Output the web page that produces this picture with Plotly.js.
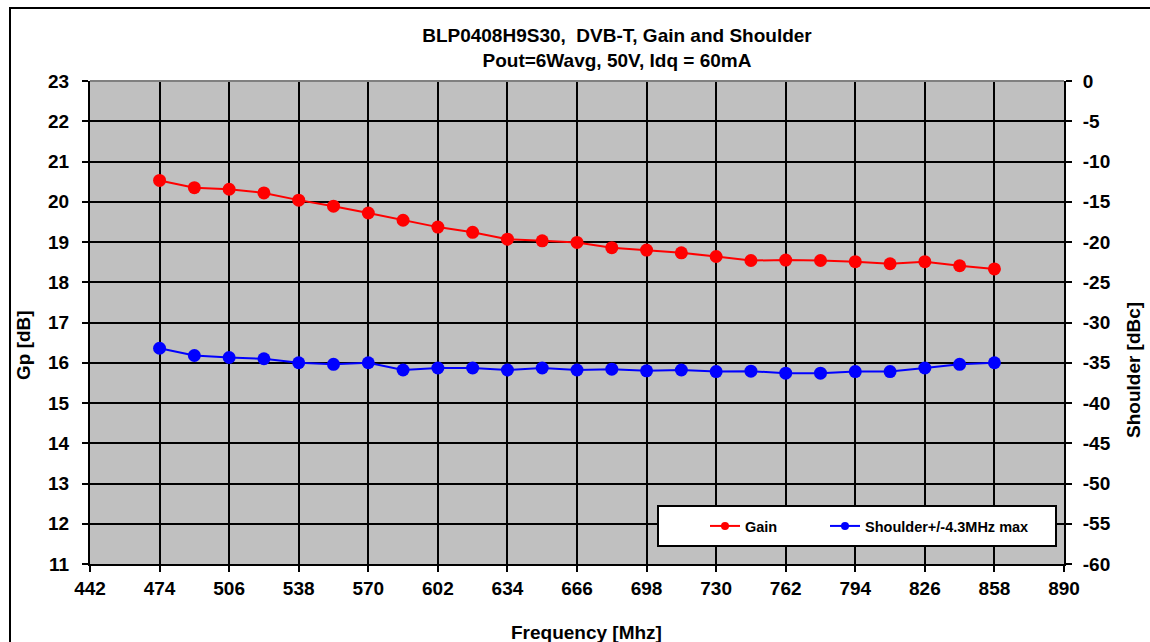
<!DOCTYPE html>
<html>
<head>
<meta charset="utf-8">
<script src="https://cdn.plot.ly/plotly-3.0.1.min.js"></script>
<style>
html,body{margin:0;padding:0;background:#fff;overflow:hidden;}
#chart{width:1150px;height:642px;}
#frame{position:absolute;left:9px;top:7px;width:1200px;height:700px;border:2px solid #000;pointer-events:none;}
</style>
</head>
<body>
<div id="chart"></div>
<div id="frame"></div>
<script>
const freq = [474,490,506,522,538,554,570,586,602,618,634,650,666,682,698,714,730,746,762,778,794,810,826,842,858];
const gain = [20.53,20.35,20.31,20.22,20.04,19.89,19.72,19.54,19.37,19.24,19.07,19.03,18.99,18.86,18.80,18.73,18.64,18.54,18.55,18.54,18.51,18.46,18.51,18.41,18.33];
const shoulder = [-33.2,-34.1,-34.35,-34.5,-35.0,-35.2,-35.0,-35.9,-35.65,-35.65,-35.9,-35.65,-35.9,-35.8,-36.0,-35.9,-36.1,-36.05,-36.3,-36.3,-36.1,-36.1,-35.65,-35.2,-35.0];
const xTicks = [442,474,506,538,570,602,634,666,698,730,762,794,826,858,890];
const yTicks = [11,12,13,14,15,16,17,18,19,20,21,22,23];
const y2Ticks = [-60,-55,-50,-45,-40,-35,-30,-25,-20,-15,-10,-5,0];
const seriesNames = ['Gain','Shoulder+/-4.3MHz max'];

const F = "Liberation Sans, Arial, sans-serif";
const bold = (s)=>({family:F,size:s,color:'#000',weight:'bold'});

const traces = [
  {x:freq,y:gain,name:seriesNames[0],type:'scatter',mode:'lines+markers',showlegend:false,
   line:{color:'#ff0000',width:2},marker:{color:'#ff0000',size:13},yaxis:'y'},
  {x:freq,y:shoulder,name:seriesNames[1],type:'scatter',mode:'lines+markers',showlegend:false,
   line:{color:'#0000ff',width:2},marker:{color:'#0000ff',size:13},yaxis:'y2'},
  // legend-only entries (small legend symbols as in the reference)
  {x:[null],y:[null],name:seriesNames[0],type:'scatter',mode:'lines+markers',legend:'legend',
   line:{color:'#ff0000',width:2},marker:{color:'#ff0000',size:8},yaxis:'y'},
  {x:[null],y:[null],name:seriesNames[1],type:'scatter',mode:'lines+markers',legend:'legend2',
   line:{color:'#0000ff',width:2},marker:{color:'#0000ff',size:8},yaxis:'y2'}
];

const px = (v)=>(v-90)/974;
const py = (v)=>(564-v)/483;

const layout = {
  width:1150,height:642,
  margin:{l:90,r:86,t:81,b:78},
  paper_bgcolor:'#ffffff',plot_bgcolor:'#c0c0c0',
  showlegend:true,
  title:{text:'BLP0408H9S30,  DVB-T, Gain and Shoulder<br>Pout=6Wavg, 50V, Idq = 60mA',
    font:bold(19),x:0.5365,xref:'container',xanchor:'center',y:0.934,yref:'container',yanchor:'middle'},
  xaxis:{range:[442,890],tickvals:xTicks,ticktext:xTicks.map(String),showgrid:true,gridcolor:'#000',gridwidth:2,
    showline:true,linecolor:'#000',linewidth:2,ticks:'outside',ticklen:6,tickwidth:2,tickcolor:'#000',
    tickfont:bold(19),ticklabelstandoff:0,zeroline:false,fixedrange:true},
  yaxis:{range:[11,23],tickvals:yTicks,ticktext:yTicks.map(String),showgrid:true,gridcolor:'#000',gridwidth:2,
    showline:true,linecolor:'#000',linewidth:2,ticks:'outside',ticklen:6,tickwidth:2,tickcolor:'#000',
    tickfont:bold(19),ticklabelstandoff:9,zeroline:false},
  yaxis2:{range:[-60,0],tickvals:y2Ticks,ticktext:y2Ticks.map(String),overlaying:'y',side:'right',showgrid:false,
    showline:true,linecolor:'#000',linewidth:2,ticks:'outside',ticklen:6,tickwidth:2,tickcolor:'#000',
    tickfont:bold(19),ticklabelstandoff:7,zeroline:false},
  legend:{orientation:'h',x:px(705),xanchor:'left',y:py(526),yanchor:'middle',bgcolor:'rgba(0,0,0,0)',
    borderwidth:0,font:bold(14.5)},
  legend2:{orientation:'h',x:px(825),xanchor:'left',y:py(526),yanchor:'middle',bgcolor:'rgba(0,0,0,0)',
    borderwidth:0,font:bold(14.5)},
  shapes:[
    {type:'rect',xref:'paper',yref:'paper',x0:px(658),x1:px(1056),y0:py(546),y1:py(506),
     fillcolor:'#ffffff',line:{color:'#000',width:2},layer:'above'},
    {type:'line',xref:'paper',yref:'paper',x0:0,x1:1,y0:1,y1:1,line:{color:'#808080',width:2}}
  ],
  annotations:[
    {text:'Gp [dB]',xref:'paper',yref:'paper',x:px(24),y:py(345),textangle:-90,showarrow:false,font:bold(19),xanchor:'center',yanchor:'middle'},
    {text:'Shoulder [dBc]',xref:'paper',yref:'paper',x:px(1133),y:py(370),textangle:-90,showarrow:false,font:bold(19),xanchor:'center',yanchor:'middle'},
    {text:'Frequency [Mhz]',xref:'paper',yref:'paper',x:px(586),y:py(632),showarrow:false,font:bold(19),xanchor:'center',yanchor:'middle'}
  ]
};

Plotly.newPlot('chart',traces,layout,{displayModeBar:false,staticPlot:true});
</script>
</body>
</html>
